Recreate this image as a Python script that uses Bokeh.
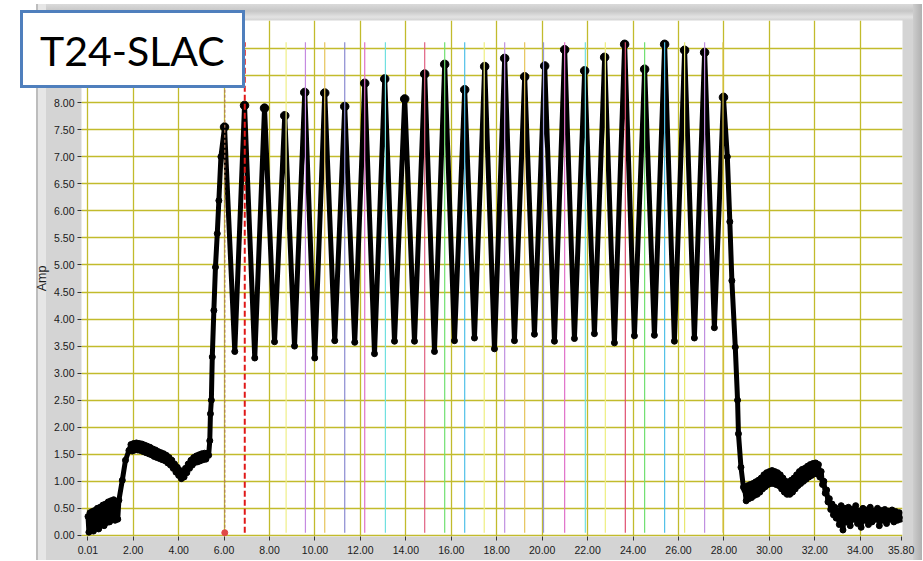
from bokeh.plotting import figure
from bokeh.models import Range1d, FixedTicker, PrintfTickFormatter, Div, Spacer
from bokeh.layouts import row
from bokeh.embed import file_html
from bokeh.resources import INLINE

# ---------------- data ----------------
# noisy baseline at the start
start_x = [0.01, 0.05, 0.10, 0.15, 0.20, 0.25, 0.30, 0.36, 0.42, 0.48, 0.54, 0.60,
           0.66, 0.72, 0.78, 0.84, 0.90, 0.96, 1.02, 1.08, 1.14, 1.20, 1.26, 1.32]
start_y = [0.35, 0.06, 0.42, 0.10, 0.44, 0.08, 0.46, 0.14, 0.50, 0.12, 0.52, 0.20,
           0.56, 0.18, 0.58, 0.24, 0.62, 0.25, 0.64, 0.30, 0.66, 0.28, 0.62, 0.30]
# first step (noisy plateau) and rising edge
rise_x = [1.37, 1.52, 1.66, 1.81, 1.90, 1.96, 2.02, 2.08, 2.14, 2.20, 2.26, 2.32, 2.38, 2.44,
          2.50, 2.56, 2.62, 2.68, 2.74, 2.80, 2.86, 2.92, 2.98, 3.04, 3.10, 3.16, 3.22, 3.28,
          3.34, 3.40, 3.46, 3.52, 3.58, 3.64, 3.70, 3.76, 3.82, 3.88, 3.94, 4.00, 4.06, 4.12,
          4.18, 4.24, 4.30, 4.36, 4.42, 4.48, 4.54, 4.60, 4.66, 4.72, 4.78, 4.84, 4.90, 4.96,
          5.02, 5.08, 5.14, 5.20, 5.26, 5.32, 5.37, 5.40, 5.44, 5.48, 5.55, 5.62, 5.70, 5.77,
          5.86]
rise_y = [0.65, 1.02, 1.39, 1.57, 1.68, 1.56, 1.70, 1.58, 1.71, 1.58, 1.70, 1.57, 1.69, 1.55,
          1.67, 1.53, 1.65, 1.51, 1.63, 1.49, 1.60, 1.46, 1.58, 1.44, 1.55, 1.42, 1.53, 1.40,
          1.51, 1.38, 1.48, 1.34, 1.44, 1.30, 1.39, 1.24, 1.32, 1.17, 1.26, 1.11, 1.20, 1.05,
          1.16, 1.08, 1.24, 1.16, 1.32, 1.24, 1.39, 1.30, 1.44, 1.35, 1.47, 1.36, 1.49, 1.38,
          1.51, 1.40, 1.52, 1.41, 1.52, 1.48, 1.75, 2.25, 2.50, 3.30, 4.16, 4.96, 5.58, 6.19,
          7.00]
# oscillation peaks and troughs
peak_x = [6.02, 6.90, 7.78, 8.67, 9.55, 10.43, 11.31, 12.19, 13.07, 13.95, 14.83, 15.71, 16.59,
          17.47, 18.35, 19.23, 20.11, 20.99, 21.87, 22.75, 23.63, 24.51, 25.39, 26.27, 27.15, 27.98]
peak_y = [7.55, 7.95, 7.90, 7.76, 8.19, 8.18, 7.93, 8.36, 8.44, 8.07, 8.53, 8.71, 8.24,
          8.67, 8.82, 8.48, 8.68, 8.98, 8.59, 8.84, 9.08, 8.62, 9.08, 8.97, 8.93, 8.10]
trough_x = [6.47, 7.35, 8.22, 9.10, 9.99, 10.87, 11.75, 12.62, 13.50, 14.38, 15.26, 16.14, 17.02,
            17.90, 18.78, 19.66, 20.54, 21.42, 22.30, 23.18, 24.06, 24.94, 25.82, 26.70, 27.58]
trough_y = [3.40, 3.28, 3.58, 3.50, 3.28, 3.60, 3.57, 3.36, 3.59, 3.59, 3.40, 3.60, 3.65,
            3.45, 3.60, 3.72, 3.59, 3.64, 3.73, 3.56, 3.69, 3.70, 3.59, 3.65, 3.84]
# falling edge
fall_x = [28.15, 28.26, 28.35, 28.50, 28.60, 28.64, 28.75, 28.86]
fall_y = [7.00, 5.80, 4.71, 3.48, 2.50, 1.88, 1.26, 0.89]
# noisy second step after the pulse
tail_x = [28.92, 28.98, 29.04, 29.10, 29.16, 29.22, 29.28, 29.34, 29.40, 29.46, 29.52, 29.58,
          29.64, 29.70, 29.76, 29.82, 29.88, 29.94, 30.00, 30.06, 30.12, 30.18, 30.24, 30.30,
          30.36, 30.42, 30.48, 30.54, 30.60, 30.66, 30.72, 30.78, 30.84, 30.90, 30.96, 31.02,
          31.08, 31.14, 31.20, 31.26, 31.32, 31.38, 31.44, 31.50, 31.56, 31.62, 31.68, 31.74,
          31.80, 31.86, 31.92, 31.98, 32.04, 32.10, 32.16, 32.22, 32.28, 32.34, 32.40, 32.46,
          32.52, 32.58, 32.64, 32.70, 32.76, 32.82, 32.88, 32.94]
tail_y = [0.84, 0.64, 0.92, 0.68, 0.94, 0.70, 0.96, 0.74, 0.99, 0.76, 1.02, 0.80,
          1.06, 0.86, 1.12, 0.90, 1.16, 0.94, 1.18, 0.96, 1.20, 0.96, 1.18, 0.94,
          1.16, 0.92, 1.12, 0.86, 1.06, 0.80, 1.00, 0.76, 0.98, 0.76, 1.02, 0.80,
          1.06, 0.86, 1.12, 0.92, 1.18, 0.96, 1.22, 1.00, 1.24, 1.04, 1.28, 1.08,
          1.31, 1.11, 1.33, 1.14, 1.34, 1.14, 1.31, 1.08, 1.18, 0.94, 1.00, 0.78,
          0.84, 0.62, 0.68, 0.48, 0.58, 0.38, 0.52, 0.32]
# noisy baseline at the end
end_x = [33.00, 33.08, 33.16, 33.24, 33.32, 33.40, 33.48, 33.56, 33.64, 33.72, 33.80, 33.88,
         33.96, 34.04, 34.12, 34.20, 34.28, 34.36, 34.44, 34.52, 34.60, 34.68, 34.76, 34.84,
         34.92, 35.00, 35.08, 35.16, 35.24, 35.32, 35.40, 35.48, 35.56, 35.64, 35.72, 35.78]
end_y = [0.45, 0.20, 0.55, 0.10, 0.50, 0.25, 0.52, 0.18, 0.48, 0.30, 0.55, 0.22,
         0.45, 0.15, 0.50, 0.28, 0.47, 0.20, 0.52, 0.25, 0.45, 0.30, 0.50, 0.18,
         0.46, 0.28, 0.48, 0.22, 0.45, 0.30, 0.47, 0.25, 0.44, 0.28, 0.42, 0.30]

# cursor lines
cursor_x = [8.73, 9.58, 10.43, 11.31, 12.19, 13.10, 14.83, 15.71, 16.59, 17.45, 18.35,
            19.23, 20.06, 20.99, 21.90, 22.78, 23.66, 24.51, 25.39, 26.27, 27.15, 27.96]
cursor_colors = ["#eeee88", "#c58ae0", "#e6c45a", "#8a8ad0", "#e070c8", "#70e0e0",
                 "#e06080", "#70e070", "#50c0e8", "#eeee80", "#c090e0", "#e6c45a",
                 "#9a9ad8", "#e070c8", "#70e0e0", "#eeee80", "#e05070", "#70e070",
                 "#50c0e8", "#e8e870", "#c090e0", "#d8c040"]
cursor_top = 9.12
cursor_bottom = 0.05
marker_a_x = 6.03   # thin dashed cursor with dot
marker_b_x = 6.91   # red dashed cursor

x_ticks = [0.01, 2, 4, 6, 8, 10, 12, 14, 16, 18, 20, 22, 24, 26, 28, 30, 32, 34, 35.8]
y_ticks = [0, 0.5, 1, 1.5, 2, 2.5, 3, 3.5, 4, 4.5, 5, 5.5, 6, 6.5, 7, 7.5, 8, 8.5, 9, 9.5]
x_grid = [0.01, 2, 4, 6, 8, 10, 12, 14, 16, 18, 20, 22, 24, 26, 28, 30, 32, 34]
y_grid = [0, 0.5, 1, 1.5, 2, 2.5, 3, 3.5, 4, 4.5, 5, 5.5, 6, 6.5, 7, 7.5, 8, 8.5, 9]

title_text = "T24-SLAC"
y_label = "Amp"

# ---------------- build curve ----------------
osc_x, osc_y = [], []
for i in range(len(trough_x)):
    osc_x += [peak_x[i], trough_x[i]]
    osc_y += [peak_y[i], trough_y[i]]
osc_x.append(peak_x[-1])
osc_y.append(peak_y[-1])

curve_x = start_x + rise_x + osc_x + fall_x + tail_x + end_x
curve_y = start_y + rise_y + osc_y + fall_y + tail_y + end_y

LEFT_GAP = 30
W, H = 892, 560
BL, BR, BT, BB = 51, 20, 20, 24

panel_bg = {
    "background-color": "#d4d4d4",
    "background-image": (
        "linear-gradient(to bottom, #ffffff 0px, #ffffff 4px, rgba(255,255,255,0) 4px),"
        "linear-gradient(to right, #ffffff 0px, #ffffff 6px, #bdbdbd 6px, #bdbdbd 8px,"
        " #e6e6e6 8px, #e6e6e6 16px, rgba(255,255,255,0) 16px),"
        "linear-gradient(to left, #b0b0b0 0px, #cdcdcd 9px, rgba(255,255,255,0) 9px),"
        "linear-gradient(to bottom, #dadada 4px, #c6c6c6 11px, #e3e3e3 17px, #d4d4d4 20px)"
    ),
}

p = figure(width=W, height=H, x_range=Range1d(-0.276, 35.86), y_range=Range1d(-0.02, 9.52),
           output_backend="svg", toolbar_location=None,
           min_border_left=BL, min_border_right=BR, min_border_top=BT, min_border_bottom=BB,
           background_fill_color="white", border_fill_color=None, outline_line_color=None,
           styles=panel_bg)

grid_color = "#c2bb2c"
p.xgrid.ticker = FixedTicker(ticks=x_grid)
p.ygrid.ticker = FixedTicker(ticks=y_grid)
for g in (p.xgrid, p.ygrid):
    g.grid_line_color = grid_color
    g.grid_line_width = 1.3

p.xaxis.ticker = FixedTicker(ticks=x_ticks)
p.yaxis.ticker = FixedTicker(ticks=y_ticks)
for ax in (p.xaxis, p.yaxis):
    ax.formatter = PrintfTickFormatter(format="%.2f")
    ax.axis_line_color = None
    ax.major_tick_in = 0
    ax.major_tick_out = 4
    ax.major_tick_line_color = "#333333"
    ax.minor_tick_line_color = None
    ax.major_label_text_font = "Liberation Sans"
    ax.major_label_text_font_size = "10.5px"
    ax.major_label_text_color = "#1a1a1a"
    ax.major_label_standoff = 3
p.xaxis.major_label_standoff = 5
p.yaxis.axis_label = y_label
p.yaxis.axis_label_text_font = "Liberation Sans"
p.yaxis.axis_label_text_font_style = "normal"
p.yaxis.axis_label_text_font_size = "12.5px"
p.yaxis.axis_label_text_color = "#1a1a1a"
p.yaxis.axis_label_standoff = 2

# curve
p.line(curve_x, curve_y, line_color="black", line_width=5, line_join="round")
p.scatter(curve_x, curve_y, size=6, color="black")
p.scatter(peak_x, peak_y, size=8.5, color="black")

# cursors
n = len(cursor_x)
p.segment(x0=cursor_x, y0=[cursor_bottom] * n, x1=cursor_x, y1=[cursor_top] * n,
          line_color=cursor_colors, line_width=1.2)
p.segment(x0=[marker_a_x], y0=[cursor_bottom], x1=[marker_a_x], y1=[cursor_top],
          line_color="#b07a5a", line_width=1.2, line_dash="3 2")
p.scatter([marker_a_x], [cursor_bottom], size=6, color="#e04848")
p.segment(x0=[marker_b_x], y0=[cursor_bottom], x1=[marker_b_x], y1=[cursor_top],
          line_color="#e01818", line_width=2, line_dash="6 3")

# title box, laid over the corner of the graph
title = Div(text=title_text, width=225, height=78,
            styles={"position": "absolute", "left": "15px", "top": "5px", "z-index": "10",
                    "box-sizing": "border-box", "width": "225px", "height": "78px",
                    "border": "3.5px solid #4f7fbd", "background-color": "white",
                    "font-family": "Lato", "font-size": "41px", "line-height": "75px",
                    "padding-left": "17px", "color": "black", "overflow": "hidden"})

layout = row(Spacer(width=LEFT_GAP, height=H), p)

open("out.html", "w").write(file_html([layout, title], INLINE))
